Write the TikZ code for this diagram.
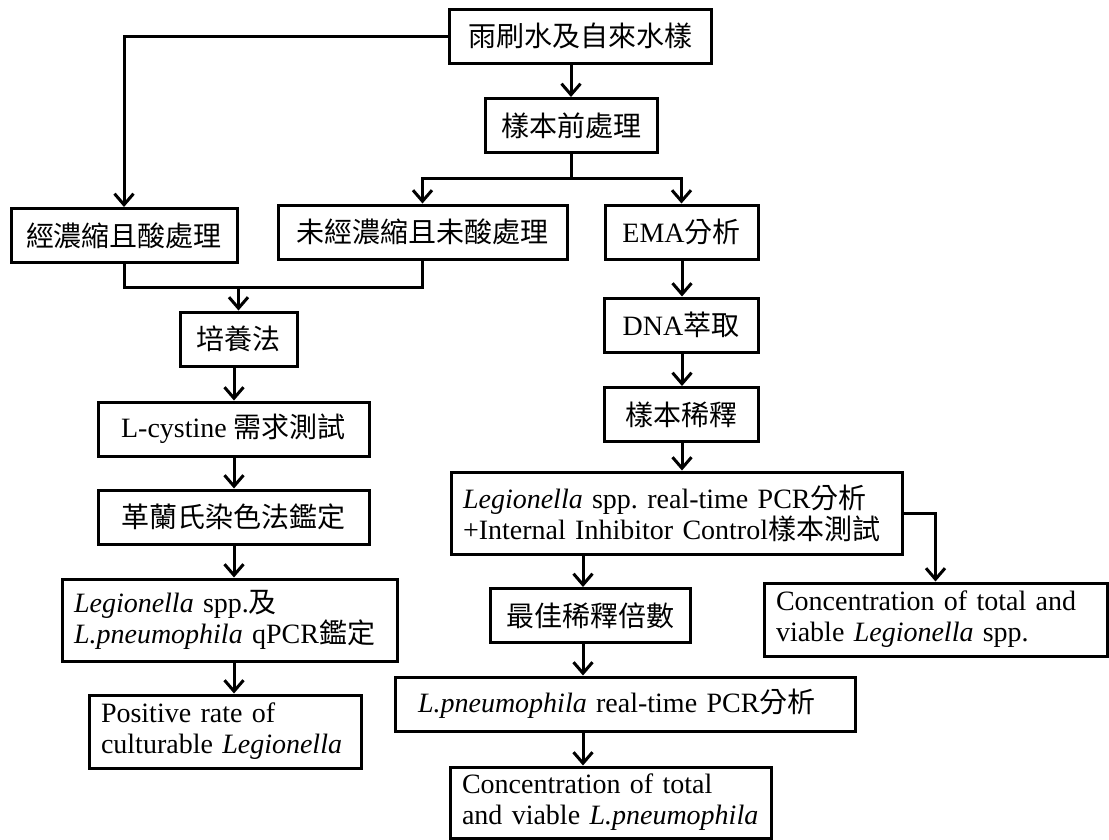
\documentclass[tikz,border=0pt]{standalone}
\usepackage{fontspec}
\setmainfont{Liberation Serif}
\newfontfamily\cjk{Noto Sans CJK TC}
\usetikzlibrary{positioning,arrows.meta}
\newcommand{\zh}[1]{{\cjk #1}}

\begin{document}
\frenchspacing
\begin{tikzpicture}[x=1pt,y=-1pt,
  box/.style={draw,line width=3pt,inner sep=0pt,minimum height=54pt,font=\fontsize{28}{31}\selectfont},
  twoline/.style={box,align=left,inner xsep=12pt,minimum height=#1},
  conn/.style={line width=3pt},
  arr/.style={conn,-{Straight Barb[length=11pt,width=19pt]}},
  arrs/.style={conn,{Straight Barb[length=11pt,width=19pt]}-{Straight Barb[length=11pt,width=19pt]}}]
\useasboundingbox (0,0) rectangle (1109,839);

\node [box,minimum width=262pt] (src) at (580,36) {\zh{雨刷水及自來水樣}};
\node [box,minimum width=172pt] (pre) at (571,125.5) {\zh{樣本前處理}};
\node [box,minimum width=226pt] (acid) at (124,235.5) {\zh{經濃縮且酸處理}};
\node [box,minimum width=289pt] (raw) at (422.5,232) {\zh{未經濃縮且未酸處理}};
\node [box,minimum width=153pt] (ema) at (681.5,232) {EMA\zh{分析}};
\node [box,minimum width=117pt] (cult) at (238.5,339) {\zh{培養法}};
\node [box,minimum width=271pt] (cys) at (233.5,429) {L-cystine \zh{需求測試}};
\node [box,minimum width=271pt] (gram) at (233.5,517) {\zh{革蘭氏染色法鑑定}};
\node [twoline=82pt,text width=311pt] (qpcr) at (229.5,620) {\textit{Legionella} spp.\zh{及}\\\textit{L.pneumophila} qPCR\zh{鑑定}};
\node [twoline=73pt,text width=248pt] (pos) at (225,731.5) {Positive rate of\\culturable \textit{Legionella}};
\node [box,minimum width=154pt] (dna) at (681,325) {DNA\zh{萃取}};
\node [box,minimum width=154pt] (dil) at (681,414.5) {\zh{樣本稀釋}};
\node [twoline=82pt,text width=427pt] (lpcr) at (676.5,513) {\textit{Legionella} spp. real-time PCR\zh{分析}\\+Internal Inhibitor Control\zh{樣本測試}};
\node [box,minimum width=200pt] (best) at (590,615.5) {\zh{最佳稀釋倍數}};
\node [twoline=54pt,text width=414pt,inner xsep=23pt] (lp) at (625,704) {\textit{L.pneumophila} real-time PCR\zh{分析}};
\node [twoline=71pt,text width=297pt] (conclp) at (610.5,802.5) {Concentration of total\\and viable \textit{L.pneumophila}};
\node [twoline=73pt,text width=319pt] (concleg) at (935.5,619.5) {Concentration of total and\\viable \textit{Legionella} spp.};

\coordinate (fork) at (571,178);
\coordinate (join) at (238.5,287);
\coordinate (lcol) at (234,0);
\coordinate (mcol) at (583,0);
\coordinate (rcol) at (682,0);

\draw[arr] (src.west) -| (acid.north);
\draw[arr] (src.south -| pre.north) -- (pre.north);
\draw[conn] (pre.south) -- (fork);
\draw[arrs] (raw.north) |- (fork) -| (ema.north);
\draw[conn] (acid.south) |- (join) -| (raw.south);
\draw[arr] (join) -- (cult.north);
\draw[arr] (lcol |- cult.south) -- (lcol |- cys.north);
\draw[arr] (lcol |- cys.south) -- (lcol |- gram.north);
\draw[arr] (lcol |- gram.south) -- (lcol |- qpcr.north);
\draw[arr] (lcol |- qpcr.south) -- (lcol |- pos.north);
\draw[arr] (rcol |- ema.south) -- (rcol |- dna.north);
\draw[arr] (rcol |- dna.south) -- (rcol |- dil.north);
\draw[arr] (rcol |- dil.south) -- (rcol |- lpcr.north);
\draw[arr] (lpcr.east) -| (concleg.north);
\draw[arr] (mcol |- lpcr.south) -- (mcol |- best.north);
\draw[arr] (mcol |- best.south) -- (mcol |- lp.north);
\draw[arr] (mcol |- lp.south) -- (mcol |- conclp.north);
\end{tikzpicture}
\end{document}
